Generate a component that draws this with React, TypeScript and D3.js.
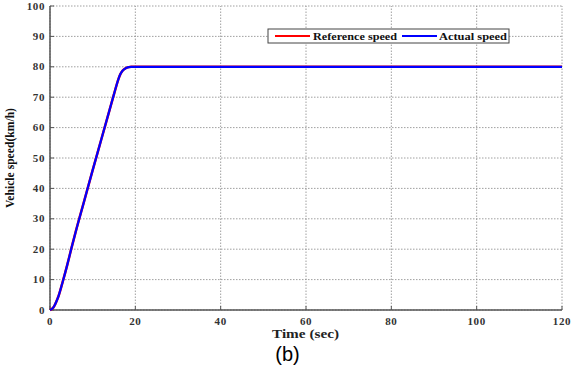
import React from "react";
import * as d3 from "d3";

const timeSec = [0, 0.5, 1, 1.5, 2, 3, 4, 5, 6, 8, 10, 12, 14, 15, 16, 16.5, 17, 17.5, 18, 18.5, 19, 20, 120];
const referenceSpeed = [0, 0.4, 1.3, 2.8, 4.6, 9.4, 14.6, 20.2, 25.6, 35.8, 46, 56, 66, 71, 75.8, 77.6, 78.7, 79.3, 79.7, 79.9, 80, 80, 80];
const actualSpeed = [0, 0.4, 1.3, 2.8, 4.6, 9.4, 14.6, 20.2, 25.6, 35.8, 46, 56, 66, 71, 75.8, 77.6, 78.7, 79.3, 79.7, 79.9, 80, 80, 80];
const xTicks = [0, 20, 40, 60, 80, 100, 120];
const yTicks = [0, 10, 20, 30, 40, 50, 60, 70, 80, 90, 100];
const legendLabels = ["Reference speed", "Actual speed"];

export default function App() {
  const W = 573, H = 368;
  const x = d3.scaleLinear().domain([0, 120]).range([50, 562]);
  const y = d3.scaleLinear().domain([0, 100]).range([310, 6]);
  const line = d3.line<number>().x((_, i) => x(timeSec[i])).y((d) => y(d)).curve(d3.curveMonotoneX);
  const serif = "'Liberation Serif', 'Times New Roman', serif";
  const tickColor = "#333";
  return (
    <svg width={W} height={H} style={{ position: "absolute", left: 0, top: 0, background: "#fff" }}>
      <rect width={W} height={H} fill="#fff" />
      {xTicks.map((t) => (
        <line key={"gx" + t} x1={x(t)} x2={x(t)} y1={y(0)} y2={y(100)} stroke="#888" strokeWidth={0.8} strokeDasharray="1.5,1.5" />
      ))}
      {yTicks.map((t) => (
        <line key={"gy" + t} x1={x(0)} x2={x(120)} y1={y(t)} y2={y(t)} stroke="#888" strokeWidth={0.8} strokeDasharray="1.5,1.5" />
      ))}
      <line x1={x(0)} x2={x(0)} y1={y(0)} y2={y(100)} stroke="#555" strokeWidth={1.5} />
      <line x1={x(0)} x2={x(120)} y1={y(0)} y2={y(0)} stroke="#555" strokeWidth={1.5} />
      {xTicks.map((t) => (
        <g key={"xt" + t}>
          <line x1={x(t)} x2={x(t)} y1={y(0)} y2={y(0) - 4} stroke="#555" strokeWidth={1} />
          <text x={x(t)} y={325} textAnchor="middle" fontFamily={serif} fontWeight="bold" fontSize={11} letterSpacing={0.6} fill={tickColor}>{t}</text>
        </g>
      ))}
      {yTicks.map((t) => (
        <g key={"yt" + t}>
          <line x1={x(0)} x2={x(0) + 4} y1={y(t)} y2={y(t)} stroke="#555" strokeWidth={1} />
          <text x={45} y={y(t) + 3.5} textAnchor="end" fontFamily={serif} fontWeight="bold" fontSize={11} letterSpacing={0.6} fill={tickColor}>{t}</text>
        </g>
      ))}
      <path d={line(referenceSpeed) || ""} fill="none" stroke="#ff0000" strokeWidth={2.5} />
      <path d={line(actualSpeed) || ""} fill="none" stroke="#0000ff" strokeWidth={2.2} />
      <rect x={268} y={29} width={241} height={14} fill="#fff" stroke="#444" strokeWidth={1} />
      <line x1={275} x2={310} y1={36} y2={36} stroke="#ff0000" strokeWidth={2} />
      <text x={313} y={40} fontFamily={serif} fontWeight="bold" fontSize={11} textLength={84} lengthAdjust="spacingAndGlyphs" fill="#111">{legendLabels[0]}</text>
      <line x1={402} x2={437} y1={36} y2={36} stroke="#0000ff" strokeWidth={2} />
      <text x={439} y={40} fontFamily={serif} fontWeight="bold" fontSize={11} textLength={68} lengthAdjust="spacingAndGlyphs" fill="#111">{legendLabels[1]}</text>
      <text x={305.5} y={338} textAnchor="middle" fontFamily={serif} fontWeight="bold" fontSize={12} textLength={67} lengthAdjust="spacingAndGlyphs" fill="#222">Time (sec)</text>
      <text transform="translate(14,158) rotate(-90)" textAnchor="middle" fontFamily={serif} fontWeight="bold" fontSize={11.5} textLength={100} lengthAdjust="spacingAndGlyphs" fill="#111">Vehicle speed(km/h)</text>
      <text x={287.5} y={361} textAnchor="middle" fontFamily="'Liberation Sans', Arial, sans-serif" fontSize={20} fill="#000">(b)</text>
    </svg>
  );
}
